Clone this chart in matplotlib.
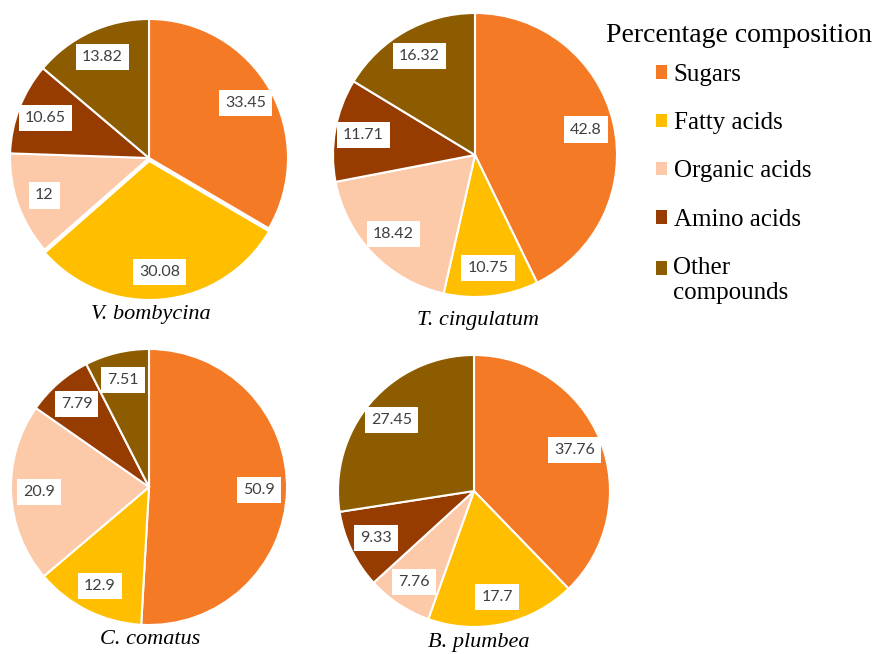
import matplotlib.pyplot as plt

# Composition (%) of each extract
categories = ['Sugars', 'Fatty acids', 'Organic acids', 'Amino acids', 'Other\ncompounds']
species = ['V. bombycina', 'T. cingulatum', 'C. comatus', 'B. plumbea']
v_bombycina = [33.45, 30.08, 12, 10.65, 13.82]
t_cingulatum = [42.8, 10.75, 18.42, 11.71, 16.32]
c_comatus = [50.9, 12.9, 20.9, 7.79, 7.51]
b_plumbea = [37.76, 17.7, 7.76, 9.33, 27.45]
series = [v_bombycina, t_cingulatum, c_comatus, b_plumbea]

colors = ['#F47A25', '#FFBF00', '#FCC9A9', '#973C00', '#8D5C00']

W, H = 875, 654
# pie centre (x, y from top), radius and species-name position, in pixels
layout = [
    ((149, 158), 139, (151, 314)),
    ((475, 155), 142, (478, 321)),
    ((149, 487), 138, (150, 639)),
    ((474, 491), 136, (479, 642)),
]
explodes = [[0, 3, 0, 0, 0], None, None, None]

plt.rcParams['font.family'] = ['Liberation Serif', 'DejaVu Serif']

fig = plt.figure(figsize=(W / 100, H / 100), dpi=100)
ax = fig.add_axes([0, 0, 1, 1])

wedges_first = None
for vals, name, (c, r, lbl), expl in zip(series, species, layout, explodes):
    wedges, texts = ax.pie(
        vals,
        labels=[f'{v:g}' for v in vals],
        colors=colors,
        center=(c[0], H - c[1]),
        radius=r,
        startangle=90,
        counterclock=False,
        explode=expl,
        labeldistance=0.8,
        wedgeprops=dict(edgecolor='white', linewidth=1.5),
        textprops=dict(ha='center', va='center', fontsize=11.5, color='#404040',
                       family=['Lato', 'DejaVu Sans'],
                       bbox=dict(boxstyle='square,pad=0.38', fc='white', ec='none')),
    )
    if wedges_first is None:
        wedges_first = wedges
    ax.text(lbl[0], H - lbl[1], name, ha='center', va='center',
            fontsize=16, style='italic', color='black')

ax.set_xlim(0, W)
ax.set_ylim(0, H)
ax.set_aspect('equal')
ax.axis('off')

# legend title drawn separately so the gap below it can be set
fig.text(739 / W, 1 - 36 / H, 'Percentage composition', ha='center', va='center',
         fontsize=20)
leg = fig.legend(wedges_first, categories,
                 loc='upper left', bbox_to_anchor=(656 / W, 1 - 64 / H),
                 frameon=False, fontsize=18, borderpad=0, borderaxespad=0,
                 handlelength=0.45, handleheight=0.45, handletextpad=0.25,
                 labelspacing=1.05)
for h in leg.legend_handles:
    h.set_edgecolor('none')
# marker of the two-line entry sits level with its first line
last = leg.legend_handles[-1]
last.set_y(last.get_y() + 9)

fig.savefig('out.png', dpi=100)
